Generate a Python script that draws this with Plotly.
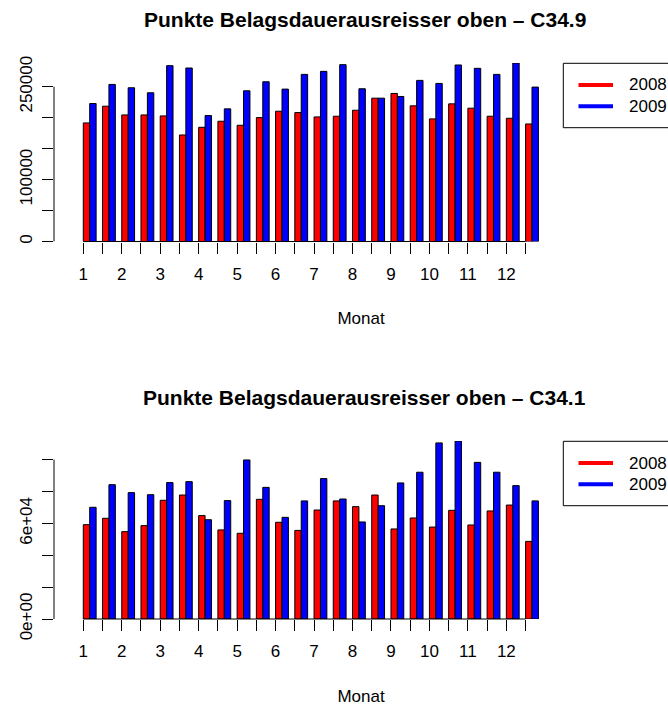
import plotly.graph_objects as go

# ---------------- data ----------------
periods = list(range(1, 25))
x_tick_labels = ["1", "", "2", "", "3", "", "4", "", "5", "", "6", "",
                 "7", "", "8", "", "9", "", "10", "", "11", "", "12", ""]
series_names = ["2008", "2009"]
series_colors = ["#FF0000", "#0000FF"]

c349_2008 = [191600, 218600, 204500, 204500, 202900, 172100, 184500, 194300,
             187800, 200200, 210500, 208300, 201300, 202400, 212100, 231600,
             239200, 219200, 198100, 222400, 215400, 202400, 199100, 189900]
c349_2009 = [222900, 253800, 248400, 240300, 284100, 280300, 203500, 214300,
             243500, 258100, 246200, 270000, 274900, 285700, 246800, 231600,
             234300, 260300, 255400, 285200, 279800, 270000, 288400, 249500]

c341_2008 = [59200, 63200, 54800, 58600, 74500, 77800, 64900, 55900,
             53800, 75100, 60700, 55600, 68400, 74100, 70500, 77800,
             56500, 63400, 57700, 68200, 59000, 67800, 71500, 48700]
c341_2009 = [70100, 84300, 79300, 78000, 85600, 86200, 62300, 74300,
             99800, 82600, 63800, 74100, 88100, 75300, 60900, 71100,
             85400, 92100, 110500, 111700, 98300, 92100, 83700, 74100]

top_yticks = [0, 50000, 100000, 150000, 200000, 250000]
top_yticklabels = ["0", "", "100000", "", "", "250000"]
bottom_yticks = [0, 20000, 40000, 60000, 80000, 100000]
bottom_yticklabels = ["0e+00", "", "", "6e+04", "", ""]

titles = ["Punkte Belagsdauerausreisser oben \u2013 C34.9",
          "Punkte Belagsdauerausreisser oben \u2013 C34.1"]
x_title = "Monat"

# ---------------- layout helpers ----------------
W, H = 668, 706
FONT = "Liberation Sans, Arial, Helvetica, sans-serif"
BASE = 17
TITLE_SIZE = 21


def px(x):
    return x / W


def py(y):
    return 1 - y / H


panels = [
    dict(s08=c349_2008, s09=c349_2009, yt=top_yticks, yl=top_yticklabels,
         title=titles[0], top=63.0, bottom=241.5, ax="", off=0.0),
    dict(s08=c341_2008, s09=c341_2009, yt=bottom_yticks, yl=bottom_yticklabels,
         title=titles[1], top=441.0, bottom=619.0, ax="2", off=378.0),
]

fig = go.Figure()

# x mapping: group centre of first period at px 89.7, slot 19.23 px
x_left_px = 54.0
slot_px = 19.23
first_center_px = 89.7
x0 = periods[0] - (first_center_px - x_left_px) / slot_px
x1 = x0 + (W - x_left_px) / slot_px
tickvals = [p - 1.0 / 3.0 for p in periods]

shapes = []
annotations = []
layout_axes = {}

for pn in panels:
    ax = pn["ax"]
    xref = "x" + ax
    yref = "y" + ax
    for name, color, vals in zip(series_names, series_colors, [pn["s08"], pn["s09"]]):
        fig.add_trace(go.Bar(
            x=periods, y=vals, name=name, xaxis=xref, yaxis=yref,
            marker=dict(color=color, line=dict(color="black", width=1)),
            showlegend=False, hoverinfo="x+y+name",
        ))

    ymax = max(max(pn["s08"]), max(pn["s09"]))
    layout_axes["xaxis" + ax] = dict(
        domain=[px(x_left_px), 1.0], anchor=yref, range=[x0, x1],
        tickmode="array", tickvals=tickvals, ticktext=x_tick_labels,
        ticks="outside", ticklen=11, tickwidth=1, tickcolor="black",
        ticklabelstandoff=6,
        showline=False, showgrid=False, zeroline=False,
        tickfont=dict(family=FONT, size=BASE, color="black"),
        title=dict(text=x_title, font=dict(family=FONT, size=BASE, color="black"),
                   standoff=29),
        fixedrange=True,
    )
    layout_axes["yaxis" + ax] = dict(
        domain=[py(pn["bottom"]), py(pn["top"])], anchor=xref, range=[0, ymax],
        tickmode="array", tickvals=pn["yt"], ticktext=pn["yl"],
        ticks="outside", ticklen=11, tickwidth=1, tickcolor="black",
        tickangle=-90, ticklabelstandoff=3,
        showline=False, showgrid=False, zeroline=False,
        tickfont=dict(family=FONT, size=BASE, color="black"),
        fixedrange=True,
    )
    # axis lines spanning the tick range only (R style)
    shapes.append(dict(type="line", xref=xref, yref=yref + " domain",
                       x0=tickvals[0], x1=tickvals[-1], y0=0, y1=0,
                       line=dict(color="black", width=1)))
    shapes.append(dict(type="line", xref=xref + " domain", yref=yref,
                       x0=0, x1=0, y0=pn["yt"][0], y1=pn["yt"][-1],
                       line=dict(color="black", width=1)))
    # title
    annotations.append(dict(text="<b>" + pn["title"] + "</b>", xref="paper", yref="paper",
                            x=px(365), y=py(19.7 + pn["off"]), xanchor="center",
                            yanchor="middle", showarrow=False,
                            font=dict(family=FONT, size=TITLE_SIZE, color="black")))
    # legend (R style box with thick lines)
    off = pn["off"]
    shapes.append(dict(type="rect", xref="paper", yref="paper",
                       x0=px(563.3), x1=px(720), y0=py(63.3 + off), y1=py(127.7 + off),
                       line=dict(color="black", width=1), fillcolor="rgba(0,0,0,0)"))
    for k, (name, color) in enumerate(zip(series_names, series_colors)):
        yy = 85.0 + 21.3 * k + off
        shapes.append(dict(type="line", xref="paper", yref="paper",
                           x0=px(578.5), x1=px(613), y0=py(yy), y1=py(yy),
                           line=dict(color=color, width=4)))
        annotations.append(dict(text=name, xref="paper", yref="paper",
                                x=px(627), y=py(yy), xanchor="left", yanchor="middle",
                                showarrow=False,
                                font=dict(family=FONT, size=BASE, color="black")))

fig.update_layout(
    width=W, height=H,
    margin=dict(l=0, r=0, t=0, b=0, autoexpand=False),
    paper_bgcolor="white", plot_bgcolor="white",
    barmode="group", bargap=1.0 / 3.0, bargroupgap=0,
    shapes=shapes, annotations=annotations,
    showlegend=False,
    font=dict(family=FONT, size=BASE, color="black"),
    **layout_axes,
)

fig.write_html(
    "out.html",
    config={"displayModeBar": False},
    post_script="document.body.style.margin='0';document.body.style.padding='0';"
                "document.body.style.overflow='hidden';"
                "document.documentElement.style.overflow='hidden';",
)
